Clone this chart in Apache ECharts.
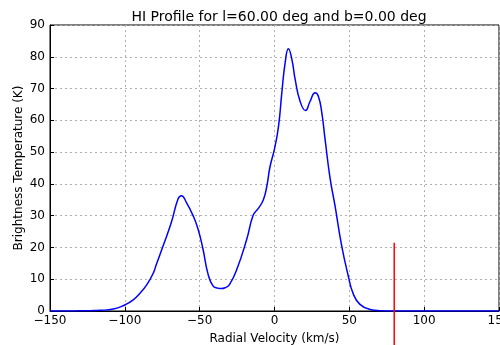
<!DOCTYPE html>
<html>
<head>
<meta charset="utf-8">
<script src="https://cdn.jsdelivr.net/npm/echarts@6/dist/echarts.min.js"></script>
<style>
  html, body { margin: 0; padding: 0; background: #fff; }
  #chart { width: 500px; height: 345px; }
</style>
</head>
<body>
<div id="chart"></div>
<script>
// radial velocity (km/s) and brightness temperature (K)
var velocity = [-150, -140, -130, -123, -116.7, -107.7, -100, -94.4, -89.9, -85.4, -81, -78.9, -74.4, -68.9,
  -64.4, -62.2, -58.9, -54.4, -51.1, -47.8, -44.4, -41.1, -38, -35.6, -33, -30, -25.1, -18.6,
  -14.2, -10.8, -7.5, -5.2, -3, 0, 2.7, 4.9, 7.1, 9.3, 11.6, 13.8, 17.1, 20.7, 23.8, 27.1, 29.3,
  31.6, 33.8, 37.1, 40.4, 44.9, 49.3, 52.7, 57.1, 63.8, 70.4, 80, 100, 125, 150];
var temperature = [0, 0, 0.05, 0.1, 0.2, 0.6, 1.9, 3.5, 5.6, 8.2, 11.9, 14.7, 20.5, 27.9,
  35.3, 36.3, 34.2, 30, 25.8, 19.5, 11.6, 7.9, 7.2, 7.05, 7.3, 8.4, 13.2, 22.5,
  30.2, 32.3, 34.9, 39.1, 45.4, 51, 58.2, 68.7, 78.1, 82.5, 79.2, 72.9, 66, 63.1, 66, 68.7, 67.6,
  62.4, 54, 41.9, 33.2, 20.5, 11, 5.3, 2.1, 0.5, 0.1, 0, 0, 0, 0];

// red marker line at v = 80 km/s
var markerX = [80, 80];
var markerY = [-11, 21.5];

var xTicks = [-150, -100, -50, 0, 50, 100, 150];
var yTicks = [0, 10, 20, 30, 40, 50, 60, 70, 80, 90];

var profile = velocity.map(function (v, i) { return [v, temperature[i]]; });
var marker = markerX.map(function (v, i) { return [v, markerY[i]]; });

function minus(v) { return String(v).replace('-', '\u2212'); }

var font = 'DejaVu Sans';
var chart = echarts.init(document.getElementById('chart'), null, { renderer: 'canvas' });

chart.setOption({
  animation: false,
  title: {
    text: 'HI Profile for l=60.00 deg and b=0.00 deg',
    left: 274, top: 5, textAlign: 'center',
    textStyle: { fontFamily: font, fontSize: 14, fontWeight: 'normal', color: '#000' }
  },
  grid: {
    left: 50, right: 1, top: 25, bottom: 34,
    outerBoundsMode: 'none', containLabel: false,
    show: true, borderColor: '#000', borderWidth: 1
  },
  xAxis: {
    type: 'value', min: xTicks[0], max: xTicks[xTicks.length - 1], interval: 50,
    name: 'Radial Velocity (km/s)', nameLocation: 'middle', nameGap: 22, nameMoveOverlap: false,
    nameTextStyle: { fontFamily: font, fontSize: 12, color: '#000' },
    axisLine: { show: true, onZero: false, lineStyle: { color: '#000' } },
    axisTick: { show: true, inside: true, length: 4, lineStyle: { color: '#000' } },
    axisLabel: { fontFamily: font, fontSize: 12, color: '#000', margin: 4, formatter: minus,
      showMinLabel: true, showMaxLabel: true, hideOverlap: false },
    splitLine: { show: true, lineStyle: { color: '#b0b0b0', type: [2, 3] } }
  },
  yAxis: {
    type: 'value', min: yTicks[0], max: yTicks[yTicks.length - 1], interval: 10,
    name: 'Brightness Temperature (K)', nameLocation: 'middle', nameGap: 25, nameMoveOverlap: false,
    nameTextStyle: { fontFamily: font, fontSize: 12, color: '#000' },
    axisLine: { show: true, onZero: false, lineStyle: { color: '#000' } },
    axisTick: { show: true, inside: true, length: 4, lineStyle: { color: '#000' } },
    axisLabel: { fontFamily: font, fontSize: 12, color: '#000', margin: 5 },
    splitLine: { show: true, lineStyle: { color: '#b0b0b0', type: [2, 3] } }
  },
  series: [
    {
      type: 'line', data: profile, smooth: 0.5, showSymbol: false,
      lineStyle: { color: '#0000ff', width: 1.5 }, z: 3
    },
    {
      type: 'line', data: marker, showSymbol: false, clip: false,
      lineStyle: { color: '#ff0000', width: 1.5 }, z: 4
    }
  ]
});
</script>
</body>
</html>
